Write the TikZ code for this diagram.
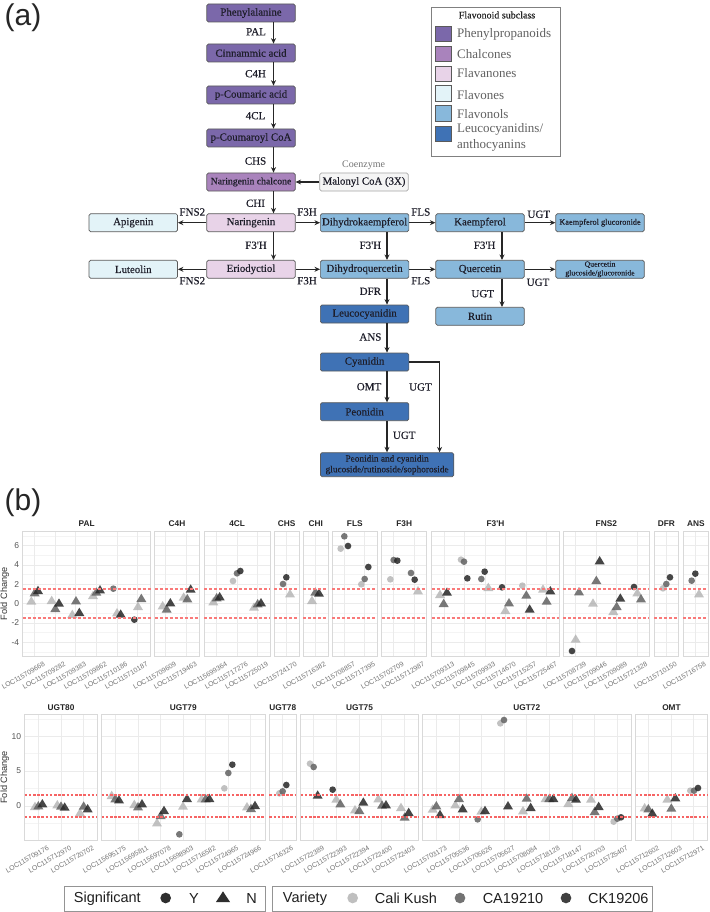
\documentclass[tikz,border=0pt]{standalone}
\usepackage{fontspec}
\setmainfont{Liberation Serif}
\newfontfamily\plotsans{Liberation Sans}
\newfontfamily\flowfont[FakeBold=0.35]{Liberation Serif}
\usetikzlibrary{arrows.meta}
\definecolor{cPhen}{HTML}{7B68AA}
\definecolor{cChal}{HTML}{A983BC}
\definecolor{cFlan}{HTML}{E8D3E8}
\definecolor{cFlav}{HTML}{E3F3F8}
\definecolor{cFlol}{HTML}{88B8DB}
\definecolor{cLeuc}{HTML}{3F72B5}
\definecolor{cEdge}{HTML}{5A5A5A}
\definecolor{cInk}{HTML}{1E1E2A}
\definecolor{cAxis}{HTML}{555555}
\definecolor{cPanel}{HTML}{D9D9D9}
\definecolor{cGrid}{HTML}{EBEBEB}
\definecolor{cMinor}{HTML}{F4F4F4}
\definecolor{cRedA}{HTML}{F97A7A}
\definecolor{cRedB}{HTML}{F66464}
\newcommand\fsz[2]{\flowfont\fontsize{#1}{#2}\selectfont}
\tikzset{
  flow/.style={draw=cEdge,line width=.7pt,rounded corners=1.6pt,minimum width=88.5pt,minimum height=18pt,inner sep=0pt,text=cInk,font=\fsz{10.8}{11},align=center},
  enz/.style={inner sep=0pt,text=cInk,font=\fsz{11}{12}},
  arr/.style={draw=black!85,line width=1.1pt,-{Stealth[length=5.5pt,width=5pt]}},
  swatch/.style={draw=cEdge,line width=.8pt,minimum width=15.5pt,minimum height=15.5pt,inner sep=0pt},
  lgtext/.style={anchor=west,inner sep=0pt,text=black!62,font=\fontsize{13}{14}\selectfont},
  ptL/.style={fill=black!32,opacity=.75},
  ptM/.style={fill=black!62,opacity=.85},
  ptD/.style={fill=black!85,opacity=.85},
  gene/.style={rotate=30,inner sep=0pt,text=black!55,font=\plotsans\fontsize{6.9}{7}\selectfont},
  ytick/.style={anchor=east,inner sep=0pt,text=cAxis,font=\plotsans\fontsize{8.5}{9}\selectfont},
  ftitle/.style={inner sep=0pt,text=black!85,font=\plotsans\bfseries\fontsize{8.3}{9}\selectfont},
  lgsans/.style={inner sep=0pt,text=black!88,font=\plotsans\fontsize{14.5}{15}\selectfont},
  redrowa/.style={draw=cRedA,line width=1.5pt,dash pattern=on 3pt off 2pt},
  redrowb/.style={draw=cRedB,line width=1.5pt,dash pattern=on 2.6pt off 1.6pt},
}
\newcommand\pTri[3]{\fill[pt#1] (#2-15,#3+12) -- (#2+15,#3+12) -- (#2,#3-13) -- cycle;}
\newcommand\pCir[3]{\fill[pt#1] (#2,#3) circle (10);}
\newcommand\pnl[4]{%
  \fill[white] (#1,\ptop) rectangle (#2,\pbot);
  \foreach \m in \minorlist {\draw[cMinor,line width=.4pt] (#1,\m) -- (#2,\m);}
  \foreach \m in \majorlist {\draw[cGrid,line width=.6pt] (#1,\m) -- (#2,\m);}
  \foreach \g in {#4} {\draw[cGrid,line width=.6pt] (\g,\ptop) -- (\g,\pbot);}
  \draw[cPanel,line width=1pt] (#1,\ptop) rectangle (#2,\pbot);
  \node[ftitle] at ({(#1+#2)/2},\ttly) {#3};
}
\newcommand\redpair[3]{\draw[#1] (#2,\dashA) -- (#3,\dashA) (#2,\dashB) -- (#3,\dashB);}
\begin{document}
\begin{tikzpicture}[x=1pt,y=-1pt]
\useasboundingbox (0,0) rectangle (709,912);
\fill[white] (0,0) rectangle (709,912);
\node[inner sep=0pt,font=\plotsans\fontsize{30}{32}\selectfont,text=black!85] (lbla) at (23,18) {(a)};
\node[inner sep=0pt,font=\plotsans\fontsize{30}{32}\selectfont,text=black!85] (lblb) at (23,503) {(b)};
% flow nodes
\node[flow,fill=cPhen] (phe) at (251,13) {Phenylalanine};
\node[flow,fill=cPhen] (cin) at (251,53) {Cinnammic acid};
\node[flow,fill=cPhen] (pca) at (251,95) {p-Coumaric acid};
\node[flow,fill=cPhen] (pcc) at (251,138) {p-Coumaroyl CoA};
\node[flow,fill=cChal,font=\fsz{9.7}{10}] (nch) at (251,182) {Naringenin chalcone};
\node[flow,fill=black!4,draw=black!35] (mal) at (364,182) {Malonyl CoA (3X)};
\node[flow,fill=cFlav] (api) at (133.3,222.7) {Apigenin};
\node[flow,fill=cFlan] (nar) at (251,222.7) {Naringenin};
\node[flow,fill=cFlol,font=\fsz{10.8}{11}] (dhk) at (364.6,222.7) {Dihydrokaempferol};
\node[flow,fill=cFlol] (kae) at (480,222.7) {Kaempferol};
\node[flow,fill=cFlol,font=\fsz{8.3}{9}] (kgl) at (600,222.7) {Kaempferol glucoronide};
\node[flow,fill=cFlav] (lut) at (133.3,269.3) {Luteolin};
\node[flow,fill=cFlan] (eri) at (251,269.3) {Eriodyctiol};
\node[flow,fill=cFlol] (dhq) at (364.6,269.3) {Dihydroquercetin};
\node[flow,fill=cFlol] (que) at (480,269.3) {Quercetin};
\node[flow,fill=cFlol,font=\fsz{7.8}{8.8}] (qgl) at (600,269.3) {Quercetin\\glucoside/glucoronide};
\node[flow,fill=cLeuc] (leu) at (364.6,314) {Leucocyanidin};
\node[flow,fill=cFlol] (rut) at (480,316.3) {Rutin};
\node[flow,fill=cLeuc] (cya) at (364.6,362) {Cyanidin};
\node[flow,fill=cLeuc] (peo) at (364.6,411.7) {Peonidin};
\node[flow,fill=cLeuc,minimum width=133.4pt,minimum height=24pt,font=\fsz{9.3}{10.7}] (pcg) at (387.1,464.7) {Peonidin and cyanidin\\glucoside/rutinoside/sophoroside};
% vertical guide coordinates
\coordinate (xa) at (273.5,0);
\coordinate (xb) at (387,0);
\coordinate (xc) at (502,0);
\coordinate (xd) at (439.6,0);
% connectors
\draw[arr] (phe.south -| xa) -- (cin.north -| xa);
\draw[arr] (cin.south -| xa) -- (pca.north -| xa);
\draw[arr] (pca.south -| xa) -- (pcc.north -| xa);
\draw[arr] (pcc.south -| xa) -- (nch.north -| xa);
\draw[arr] (nch.south -| xa) -- (nar.north -| xa);
\draw[arr] (mal) -- (nch);
\draw[arr] (nar) -- (api);
\draw[arr] (nar) -- (dhk);
\draw[arr] (dhk) -- (kae);
\draw[arr] (kae) -- (kgl);
\draw[arr] (nar.south -| xa) -- (eri.north -| xa);
\draw[arr] (dhk.south -| xb) -- (dhq.north -| xb);
\draw[arr] (kae.south -| xc) -- (que.north -| xc);
\draw[arr] (eri) -- (lut);
\draw[arr] (eri) -- (dhq);
\draw[arr] (dhq) -- (que);
\draw[arr] (que) -- (qgl);
\draw[arr] (dhq.south -| xb) -- (leu.north -| xb);
\draw[arr] (que.south -| xc) -- (rut.north -| xc);
\draw[arr] (leu.south -| xb) -- (cya.north -| xb);
\draw[arr] (cya.south -| xb) -- (peo.north -| xb);
\draw[arr] (peo.south -| xb) -- (pcg.north -| xb);
\draw[arr] (cya.east) -| (pcg.north -| xd);
% enzyme labels
\node[enz] (e1) at (256,31.7) {PAL};
\node[enz] (e2) at (255.5,73.7) {C4H};
\node[enz] (e3) at (255.5,115.7) {4CL};
\node[enz] (e4) at (255.5,161) {CHS};
\node[enz] (e5) at (255.5,203.3) {CHI};
\node[inner sep=0pt,text=black!55,font=\fontsize{10}{11}\selectfont] (e6) at (363.6,165.3) {Coenzyme};
\node[enz] (e7) at (192.3,212) {FNS2};
\node[enz] (e8) at (307,212) {F3H};
\node[enz] (e9) at (420.8,212) {FLS};
\node[enz] (e10) at (538.8,214.3) {UGT};
\node[enz] (e11) at (256,245.3) {F3'H};
\node[enz] (e12) at (370.4,245.3) {F3'H};
\node[enz] (e13) at (484.6,245.3) {F3'H};
\node[enz] (e14) at (192.3,280.7) {FNS2};
\node[enz] (e15) at (307,280.7) {F3H};
\node[enz] (e16) at (420.8,280.7) {FLS};
\node[enz] (e17) at (538,282.3) {UGT};
\node[enz] (e18) at (370.4,291.3) {DFR};
\node[enz] (e19) at (482.7,293.7) {UGT};
\node[enz] (e20) at (370.4,337) {ANS};
\node[enz] (e21) at (369,386.7) {OMT};
\node[enz] (e22) at (420.4,387) {UGT};
\node[enz] (e23) at (404.2,435.3) {UGT};
% legend (a)
\node[draw=black!50,line width=1pt,minimum width=128.5pt,minimum height=148.4pt,inner sep=0pt,anchor=north west,fill=white] (lgbox) at (431,7.3) {};
\node[inner sep=0pt,font=\fsz{10}{11},text=black!85] (lgt) at (497,15) {Flavonoid subclass};
\node[swatch,fill=cPhen] (s1) at (443.2,33.7) {};
\node[swatch,fill=cChal] (s2) at (443.2,54) {};
\node[swatch,fill=cFlan] (s3) at (443.2,73.7) {};
\node[swatch,fill=cFlav] (s4) at (443.2,93.3) {};
\node[swatch,fill=cFlol] (s5) at (443.2,113.3) {};
\node[swatch,fill=cLeuc] (s6) at (443.2,134) {};
\node[lgtext] (t1) at (457,34) {Phenylpropanoids};
\node[lgtext] (t2) at (457,54.3) {Chalcones};
\node[lgtext] (t3) at (457,73) {Flavanones};
\node[lgtext] (t4) at (457,95.3) {Flavones};
\node[lgtext] (t5) at (457,114) {Flavonols};
\node[lgtext] (t6) at (457,129) {Leucocyanidins/};
\node[lgtext] (t7) at (457,145.3) {anthocyanins};
% ---------- panel row 1 (3x coordinates)
\begin{scope}[x=.33333pt,y=-.33333pt,shift={(0pt,-510pt)}]
\def\ptop{63}\def\pbot{438}\def\ttly{41}\def\dashA{237}\def\dashB{324}
\def\majorlist{107,165,223,281,339,398}\def\minorlist{78,136,194,252,310,368,427}
\pnl{68}{452}{PAL}{103,165,227,289,351,412}
\pnl{464}{598}{C4H}{497,559}
\pnl{613}{810}{4CL}{650,712,773}
\pnl{823}{897}{CHS}{859}
\pnl{910}{984}{CHI}{946}
\pnl{997}{1132}{FLS}{1034,1094}
\pnl{1145}{1280}{F3H}{1180,1242}
\pnl{1295}{1678}{F3'H}{1332,1393,1455,1516,1578,1640}
\pnl{1690}{1948}{FNS2}{1727,1789,1850,1911}
\pnl{1963}{2035}{DFR}{1999}
\pnl{2050}{2125}{ANS}{2086}
% points
\pTri L{94}{272}\pTri M{104}{247}\pTri D{114}{240}
\pTri L{155}{270}\pTri M{166}{294}\pTri D{177}{278}
\pTri L{217}{312}\pTri M{228}{271}\pTri D{238}{306}
\pTri L{279}{255}\pTri M{289}{245}\pTri D{300}{238}
\pCir M{340}{236}\pTri L{351}{307}\pTri D{362}{311}
\pCir D{403}{329}\pTri L{414}{288}\pTri M{424}{264}
\pTri L{488}{286}\pTri M{500}{296}\pTri D{511}{277}
\pTri L{551}{260}\pTri M{562}{265}\pTri D{572}{236}
\pTri L{640}{274}\pTri M{650}{262}\pTri D{659}{259}
\pCir L{699}{213}\pCir M{711}{190}\pCir D{721}{183}
\pTri L{762}{290}\pTri M{773}{280}\pTri D{783}{277}
\pCir M{849}{222}\pCir D{859}{202}\pTri L{870}{250}
\pTri L{936}{270}\pTri M{946}{245}\pTri D{957}{248}
\pCir L{1022}{116}\pCir M{1033}{79}\pCir D{1044}{108}
\pCir L{1084}{223}\pCir M{1094}{207}\pCir D{1105}{171}
\pCir L{1171}{208}\pCir M{1181}{150}\pCir D{1192}{152}
\pCir M{1233}{189}\pCir D{1244}{209}\pTri L{1254}{241}
\pTri L{1320}{252}\pTri M{1331}{279}\pTri D{1341}{245}
\pCir L{1383}{149}\pCir M{1392}{155}\pCir D{1402}{205}
\pCir M{1444}{207}\pCir D{1454}{185}\pTri L{1465}{231}
\pCir D{1506}{232}\pTri L{1516}{300}\pTri M{1527}{277}
\pCir L{1567}{227}\pTri M{1579}{254}\pTri D{1589}{296}
\pTri L{1629}{236}\pTri M{1640}{272}\pTri D{1651}{241}
\pCir D{1716}{423}\pTri L{1727}{386}\pTri M{1737}{244}
\pTri L{1779}{278}\pTri M{1789}{210}\pTri D{1799}{151}
\pTri L{1840}{303}\pTri M{1850}{288}\pTri D{1861}{263}
\pCir D{1902}{231}\pTri L{1912}{247}\pTri M{1923}{265}
\pCir L{1989}{235}\pCir M{1999}{222}\pCir D{2010}{202}
\pCir M{2075}{212}\pCir D{2086}{191}\pTri L{2097}{250}
% red thresholds
\redpair{redrowa}{68}{452}\redpair{redrowa}{464}{598}\redpair{redrowa}{613}{810}\redpair{redrowa}{823}{897}\redpair{redrowa}{910}{984}\redpair{redrowa}{997}{1132}\redpair{redrowa}{1145}{1280}\redpair{redrowa}{1295}{1678}\redpair{redrowa}{1690}{1948}\redpair{redrowa}{1963}{2035}\redpair{redrowa}{2050}{2125}
% y axis
\node[ytick] (ya1) at (58,107) {6};
\node[ytick] (ya2) at (58,165) {4};
\node[ytick] (ya3) at (58,223) {2};
\node[ytick] (ya4) at (58,281) {0};
\node[ytick] (ya5) at (58,339) {-2};
\node[ytick] (ya6) at (58,398) {-4};
\node[rotate=90,inner sep=0pt,text=black!80,font=\plotsans\fontsize{9.2}{10}\selectfont] (yl1) at (14,251) {Fold Change};
% gene labels
\foreach \g/\lab in {103/LOC115709668,165/LOC115709282,227/LOC115709383,289/LOC115709862,351/LOC115710186,412/LOC115710187,497/LOC115709609,559/LOC115719463,650/LOC115699364,712/LOC115717276,773/LOC115725019,859/LOC115724170,946/LOC115716382,1034/LOC115708857,1094/LOC115717395,1180/LOC115702709,1242/LOC115712987,1332/LOC115709313,1393/LOC115709845,1455/LOC115709933,1516/LOC115714670,1578/LOC115715257,1640/LOC115725467,1727/LOC115708739,1789/LOC115709046,1850/LOC115709089,1911/LOC115721328,1999/LOC115710150,2086/LOC115716758}{
  \node[gene] (g\g) at (\g-33,497) {\lab};}
\end{scope}
% ---------- panel row 2
\begin{scope}[x=.33333pt,y=-.33333pt,shift={(0pt,-700pt)}]
\def\ptop{43}\def\pbot{420}\def\ttly{22}\def\dashA{285}\def\dashB{351}
\def\majorlist{109,213,318}\def\minorlist{57,161,265,370}
\pnl{74}{292}{UGT80}{115,183,250}
\pnl{305}{795}{UGT79}{346,414,481,549,616,684,752}
\pnl{808}{889}{UGT78}{848}
\pnl{902}{1255}{UGT75}{941,1009,1077,1145,1213}
\pnl{1268}{1893}{UGT72}{1309,1377,1445,1513,1580,1648,1716,1784,1852}
\pnl{1907}{2122}{OMT}{1946,2014,2081}
\pTri L{105}{318}\pTri M{115}{316}\pTri D{127}{310}
\pTri L{172}{313}\pTri M{183}{317}\pTri D{194}{320}
\pTri L{240}{337}\pTri M{251}{317}\pTri D{263}{325}
\pTri L{335}{285}\pTri M{346}{295}\pTri D{357}{298}
\pTri L{403}{312}\pTri M{414}{319}\pTri D{426}{310}
\pTri L{471}{367}\pTri M{482}{345}\pTri D{492}{330}
\pCir M{538}{403}\pTri L{549}{317}\pTri D{561}{294}
\pTri L{605}{295}\pTri M{617}{295}\pTri D{628}{294}
\pCir L{673}{265}\pCir M{685}{219}\pCir D{697}{194}
\pTri L{741}{319}\pTri M{753}{324}\pTri D{765}{315}
\pCir L{838}{280}\pCir M{848}{274}\pCir D{859}{255}
\pCir L{930}{191}\pCir M{941}{201}\pTri D{953}{284}
\pCir D{998}{269}\pTri L{1009}{296}\pTri M{1021}{310}
\pTri L{1065}{328}\pTri M{1078}{330}\pTri D{1090}{305}
\pTri L{1135}{295}\pTri M{1146}{314}\pTri D{1158}{313}
\pTri L{1203}{321}\pTri M{1214}{350}\pTri D{1226}{336}
\pTri L{1298}{326}\pTri M{1309}{316}\pTri D{1320}{342}
\pTri L{1366}{313}\pTri M{1377}{294}\pTri D{1388}{325}
\pCir M{1433}{358}\pTri L{1444}{332}\pTri D{1455}{330}
\pCir L{1501}{70}\pCir M{1512}{60}\pTri D{1524}{316}
\pTri L{1569}{331}\pTri M{1580}{293}\pTri D{1592}{321}
\pTri L{1637}{294}\pTri M{1648}{294}\pTri D{1660}{294}
\pTri L{1705}{309}\pTri M{1716}{291}\pTri D{1728}{296}
\pTri L{1773}{296}\pTri M{1784}{333}\pTri D{1796}{318}
\pCir L{1841}{365}\pCir M{1852}{356}\pCir D{1863}{352}
\pTri L{1934}{322}\pTri M{1945}{325}\pTri D{1957}{338}
\pTri L{2002}{296}\pTri M{2014}{323}\pTri D{2026}{292}
\pCir L{2071}{272}\pCir M{2082}{272}\pCir D{2094}{264}
\redpair{redrowb}{74}{292}\redpair{redrowb}{305}{795}\redpair{redrowb}{808}{889}\redpair{redrowb}{902}{1255}\redpair{redrowb}{1268}{1893}\redpair{redrowb}{1907}{2122}
\node[ytick] (yb1) at (64,109) {10};
\node[ytick] (yb2) at (64,213) {5};
\node[ytick] (yb3) at (64,318) {0};
\node[rotate=90,inner sep=0pt,text=black!80,font=\plotsans\fontsize{9.2}{10}\selectfont] (yl2) at (14,232) {Fold Change};
\foreach \g/\lab in {115/LOC115709176,183/LOC115712970,250/LOC115720702,346/LOC115695175,414/LOC115695811,481/LOC115697078,549/LOC115698903,616/LOC115716582,684/LOC115724965,752/LOC115724966,848/LOC115716326,941/LOC115722389,1009/LOC115722393,1077/LOC115722394,1145/LOC115722400,1213/LOC115722403,1309/LOC115703173,1377/LOC115705536,1445/LOC115705626,1513/LOC115705627,1580/LOC115708084,1648/LOC115718128,1716/LOC115718147,1784/LOC115720703,1852/LOC115725407,1946/LOC115712602,2014/LOC115712603,2081/LOC115712971}{
  \node[gene] (h\g) at (\g-33,478) {\lab};}
% bottom legends
\draw[draw=black!42,line width=1pt,fill=white] (192,558) rectangle (796,634);
\draw[draw=black!42,line width=1pt,fill=white] (817,558) rectangle (1958,634);
\node[lgsans] (l1) at (322,596) {Significant};
\fill[black!82] (497,594) circle (16);
\node[lgsans] (l2) at (582,596) {Y};
\fill[black!82] (648,606) -- (690,606) -- (669,574) -- cycle;
\node[lgsans] (l3) at (755,596) {N};
\node[lgsans] (l4) at (915,596) {Variety};
\fill[black!25] (1058,594) circle (16);
\node[lgsans] (l5) at (1218,596) {Cali Kush};
\fill[black!55] (1380,594) circle (16);
\node[lgsans] (l6) at (1539,596) {CA19210};
\fill[black!75] (1698,594) circle (16);
\node[lgsans] (l7) at (1855,596) {CK19206};
\end{scope}
\end{tikzpicture}
\end{document}
